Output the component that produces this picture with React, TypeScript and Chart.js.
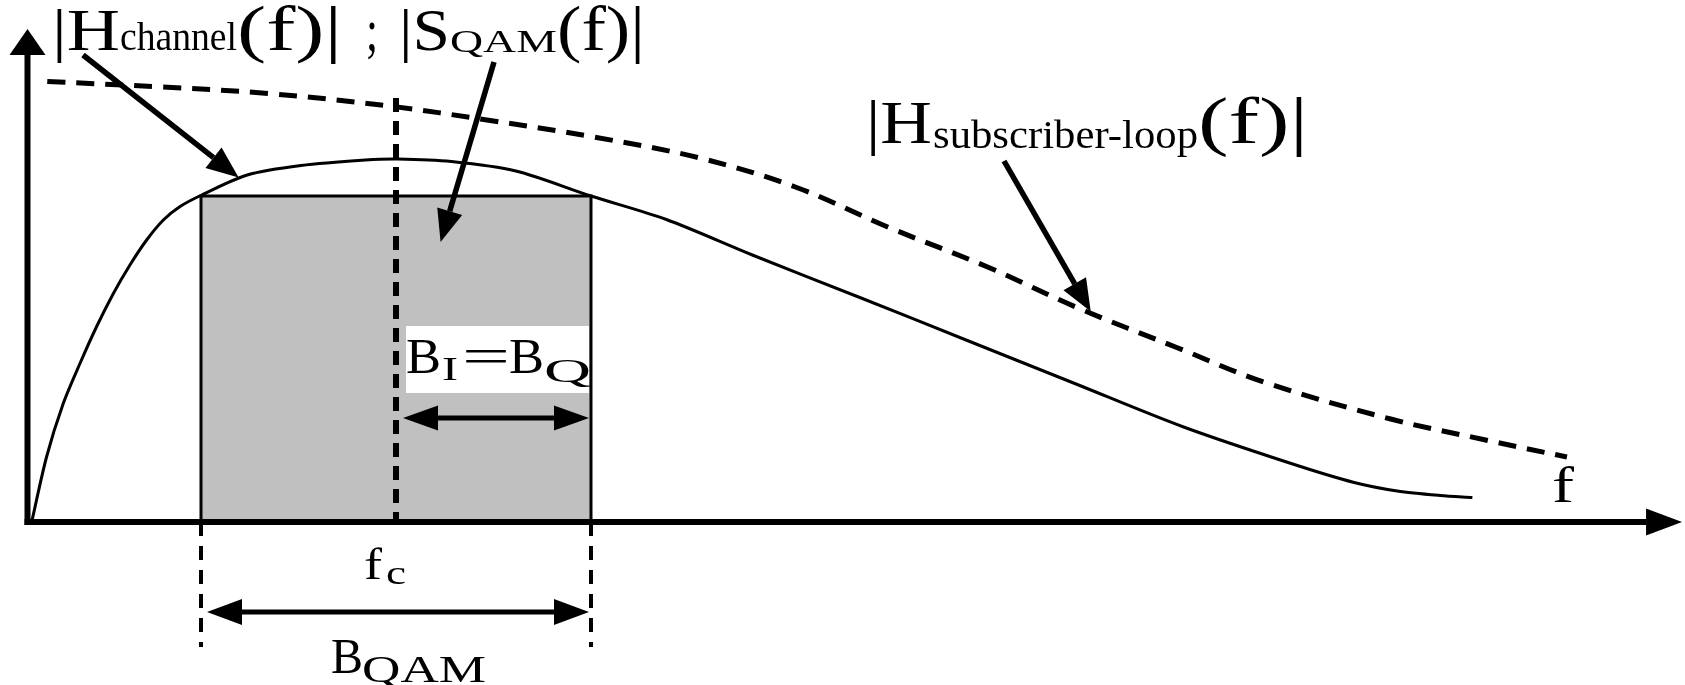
import { useEffect, useRef } from "react";
import { Chart, registerables } from "chart.js";

Chart.register(...registerables);

// Channel magnitude response |H_channel(f)| (frequency in arbitrary units, magnitude normalised)
const channelFreq = [0.034, 0.156, 0.291, 0.427, 0.563, 0.699, 0.834, 0.97, 1.106, 1.242, 1.418, 1.789, 2.226, 2.751, 3.014, 3.451, 3.976, 4.588, 5.201, 5.901, 6.776, 7.651, 8.526, 9.401, 10.275, 10.801, 11.151, 11.501, 11.763];
const channelMag = [0, 0.131, 0.237, 0.317, 0.391, 0.457, 0.514, 0.564, 0.604, 0.631, 0.654, 0.694, 0.713, 0.724, 0.726, 0.721, 0.702, 0.652, 0.605, 0.534, 0.449, 0.363, 0.277, 0.191, 0.118, 0.079, 0.062, 0.053, 0.049];

// Subscriber loop magnitude response |H_subscriber-loop(f)|
const loopFreq = [0.161, 1.089, 1.963, 2.978, 3.713, 4.588, 5.473, 6.251, 7.003, 7.826, 8.543, 9.366, 10.075, 11.098, 11.852, 12.533];
const loopMag = [0.881, 0.87, 0.857, 0.831, 0.805, 0.771, 0.728, 0.67, 0.59, 0.509, 0.429, 0.348, 0.279, 0.206, 0.165, 0.13];

// QAM spectrum: carrier, occupied bandwidth and flat level
const carrierFreq = 3.0;
const qamBandwidth = 3.175;
const qamLevel = 0.652;

// Guide and dimension lines
const carrierLineTop = 0.848;
const edgeLineBottom = -0.25;
const halfBandArrowLevel = 0.208;
const fullBandArrowLevel = -0.18;
const axisTipX = 13.47;
const axisTipY = 0.986;

// Pointer arrows: [fromF, fromMag, toF, toMag]
const channelPointer = [0.452, 0.934, 1.719, 0.689];
const spectrumPointer = [3.798, 0.92, 3.363, 0.56];
const loopPointer = [7.95, 0.722, 8.656, 0.421];

const SERIF = '"Liberation Serif", "Times New Roman", serif';

type Piece = { t: string; size: number; x: number; w: number; dy?: number };

function drawPieces(ctx: CanvasRenderingContext2D, pieces: Piece[], baseline: number) {
  for (const p of pieces) {
    ctx.font = `${p.size}px ${SERIF}`;
    const m = ctx.measureText(p.t).width;
    ctx.save();
    ctx.translate(p.x, baseline + (p.dy || 0));
    ctx.scale(p.w / m, 1);
    ctx.fillText(p.t, 0, 0);
    ctx.restore();
  }
}

function head(ctx: CanvasRenderingContext2D, tx: number, ty: number, a: number, len: number, wid: number) {
  const bx = tx - len * Math.cos(a);
  const by = ty - len * Math.sin(a);
  ctx.beginPath();
  ctx.moveTo(tx, ty);
  ctx.lineTo(bx + (wid / 2) * Math.sin(a), by - (wid / 2) * Math.cos(a));
  ctx.lineTo(bx - (wid / 2) * Math.sin(a), by + (wid / 2) * Math.cos(a));
  ctx.closePath();
  ctx.fill();
  return [bx, by];
}

function arrow(ctx: CanvasRenderingContext2D, x1: number, y1: number, x2: number, y2: number, lw: number, len: number, wid: number) {
  const a = Math.atan2(y2 - y1, x2 - x1);
  const [bx, by] = head(ctx, x2, y2, a, len, wid);
  ctx.lineWidth = lw;
  ctx.beginPath();
  ctx.moveTo(x1, y1);
  ctx.lineTo(bx, by);
  ctx.stroke();
}

function doubleArrow(ctx: CanvasRenderingContext2D, x1: number, x2: number, y: number, lw: number, len: number, wid: number) {
  head(ctx, x1, y, Math.PI, len, wid);
  head(ctx, x2, y, 0, len, wid);
  ctx.lineWidth = lw;
  ctx.beginPath();
  ctx.moveTo(x1 + len, y);
  ctx.lineTo(x2 - len, y);
  ctx.stroke();
}

const diagramPlugin = {
  id: "qamDiagram",
  afterDatasetsDraw(chart: any) {
    const ctx: CanvasRenderingContext2D = chart.ctx;
    const sx = (v: number) => chart.scales.x.getPixelForValue(v);
    const sy = (v: number) => chart.scales.y.getPixelForValue(v);
    const fLow = carrierFreq - qamBandwidth / 2;
    const fHigh = carrierFreq + qamBandwidth / 2;

    ctx.save();
    ctx.fillStyle = "#000";
    ctx.strokeStyle = "#000";
    ctx.lineCap = "butt";

    // white label box inside the band
    ctx.fillStyle = "#fff";
    ctx.fillRect(406, 326, sx(fHigh) - 2 - 406, 67);
    ctx.fillStyle = "#000";

    // carrier frequency guide
    ctx.setLineDash([14, 9]);
    ctx.lineWidth = 6;
    ctx.beginPath();
    ctx.moveTo(sx(carrierFreq), sy(carrierLineTop));
    ctx.lineTo(sx(carrierFreq), sy(0));
    ctx.stroke();

    // band edge guides below the axis
    ctx.setLineDash([14, 10]);
    ctx.lineWidth = 4;
    for (const f of [fLow, fHigh]) {
      ctx.beginPath();
      ctx.moveTo(sx(f), sy(0));
      ctx.lineTo(sx(f), sy(edgeLineBottom));
      ctx.stroke();
    }
    ctx.setLineDash([]);

    // axes with arrow heads
    const ox = sx(0);
    const oy = sy(0);
    arrow(ctx, ox, oy + 3, ox, sy(axisTipY), 6, 26, 36);
    arrow(ctx, ox - 3, oy, sx(axisTipX), oy, 6, 36, 27);

    // pointer arrows
    for (const p of [channelPointer, spectrumPointer, loopPointer]) {
      arrow(ctx, sx(p[0]), sy(p[1]), sx(p[2]), sy(p[3]), 5.5, 32, 26);
    }

    // bandwidth dimension arrows
    doubleArrow(ctx, sx(carrierFreq) + 7, sx(fHigh) - 2, sy(halfBandArrowLevel), 5, 35, 25);
    doubleArrow(ctx, sx(fLow) + 6, sx(fHigh) - 2, sy(fullBandArrowLevel), 5, 35, 26);

    // labels
    ctx.textBaseline = "alphabetic";
    ctx.textAlign = "left";
    drawPieces(ctx, [
      { t: "|H", size: 60, x: 52, w: 68 },
      { t: "channel", size: 41, x: 120, w: 117 },
      { t: "(f)|", size: 64, x: 237, w: 105 },
      { t: ";", size: 60, x: 366, w: 12 },
      { t: "|S", size: 60, x: 399, w: 51 },
      { t: "QAM", size: 32, x: 450, w: 107, dy: 2 },
      { t: "(f)|", size: 64, x: 557, w: 88 },
    ], 50);
    drawPieces(ctx, [
      { t: "|H", size: 62, x: 866, w: 66 },
      { t: "subscriber-loop", size: 41, x: 933, w: 265, dy: 5 },
      { t: "(f)|", size: 66, x: 1198, w: 110 },
    ], 143);
    drawPieces(ctx, [
      { t: "B", size: 51, x: 406, w: 35 },
      { t: "I", size: 33, x: 442, w: 16, dy: 7 },
      { t: "=", size: 51, x: 462, w: 48 },
      { t: "B", size: 51, x: 509, w: 35 },
      { t: "Q", size: 33, x: 544, w: 47, dy: 9 },
    ], 373);
    drawPieces(ctx, [
      { t: "f", size: 44, x: 364, w: 18 },
      { t: "c", size: 34, x: 386, w: 20, dy: 5 },
    ], 579);
    drawPieces(ctx, [
      { t: "B", size: 50, x: 331, w: 32 },
      { t: "QAM", size: 38, x: 362, w: 124, dy: 9 },
    ], 673);
    drawPieces(ctx, [{ t: "f", size: 51, x: 1552, w: 22 }], 502);

    ctx.restore();
  },
};

export default function App() {
  const ref = useRef<HTMLCanvasElement>(null);

  useEffect(() => {
    document.body.style.margin = "0";
    const fLow = carrierFreq - qamBandwidth / 2;
    const fHigh = carrierFreq + qamBandwidth / 2;
    const chart = new Chart(ref.current!, {
      type: "line",
      data: {
        datasets: [
          {
            label: "|H_channel(f)|",
            data: channelFreq.map((f, i) => ({ x: f, y: channelMag[i] })),
            borderColor: "#000",
            borderWidth: 3,
            pointRadius: 0,
            fill: false,
            tension: 0.3,
            order: 1,
          },
          {
            label: "|H_subscriber-loop(f)|",
            data: loopFreq.map((f, i) => ({ x: f, y: loopMag[i] })),
            borderColor: "#000",
            borderWidth: 5,
            borderDash: [18, 11],
            pointRadius: 0,
            fill: false,
            tension: 0.35,
            order: 2,
          },
          {
            label: "|S_QAM(f)|",
            data: [
              { x: fLow, y: 0 },
              { x: fLow, y: qamLevel },
              { x: fHigh, y: qamLevel },
              { x: fHigh, y: 0 },
            ],
            borderColor: "#000",
            borderWidth: 3,
            backgroundColor: "#c0c0c0",
            pointRadius: 0,
            tension: 0,
            fill: "origin",
            order: 3,
          },
        ],
      },
      options: {
        responsive: false,
        animation: false,
        devicePixelRatio: 1,
        events: [],
        layout: { padding: 0 },
        plugins: { legend: { display: false }, tooltip: { enabled: false }, title: { display: false } },
        scales: {
          x: { type: "linear", display: false, min: -0.2239, max: 13.494 },
          y: { type: "linear", display: false, min: -0.326, max: 1.044 },
        },
      },
      plugins: [diagramPlugin],
    } as any);
    return () => chart.destroy();
  }, []);

  return (
    <div style={{ width: 1685, height: 685, background: "#fff" }}>
      <canvas ref={ref} width={1685} height={685} style={{ display: "block" }} />
    </div>
  );
}
